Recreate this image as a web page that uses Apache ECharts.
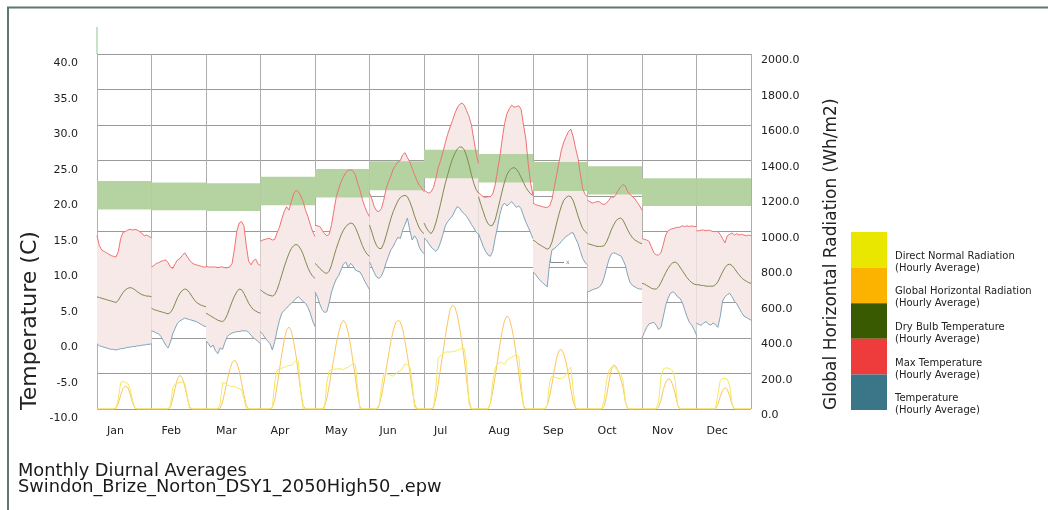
<!DOCTYPE html>
<html>
<head>
<meta charset="utf-8">
<script src="https://cdn.jsdelivr.net/npm/echarts@6/dist/echarts.min.js"></script>
<style>
  html, body { margin: 0; padding: 0; background: #fff; }
  #chart { width: 1048px; height: 510px; }
</style>
</head>
<body>
<div id="chart"></div>
<script>
// Monthly diurnal profiles: one row of 24 hourly averages per month.
const months = ['Jan', 'Feb', 'Mar', 'Apr', 'May', 'Jun', 'Jul', 'Aug', 'Sep', 'Oct', 'Nov', 'Dec'];

// Max temperature (C)
const maxTemp = [
  [14.4,13.0,12.4,12.2,12.0,11.8,11.6,11.5,11.4,12.2,14.0,14.9,15.0,15.2,15.3,15.2,15.3,15.2,15.0,14.7,14.4,14.5,14.3,14.1],
  [10.0,10.2,10.5,10.6,10.8,10.9,11.0,10.6,10.0,9.8,10.5,11.0,11.2,11.6,12.0,11.5,11.0,10.6,10.4,10.3,10.2,10.1,10.0,10.0],
  [10.1,10.0,10.0,10.0,10.0,9.9,10.0,10.0,9.9,9.9,10.0,10.5,12.5,15.0,16.2,16.4,15.8,13.0,10.8,10.3,10.9,11.1,10.4,10.2],
  [13.6,13.8,13.9,14.0,14.0,13.8,13.9,14.8,15.6,16.8,17.8,18.5,18.0,19.2,20.3,20.8,20.6,20.0,19.2,18.0,17.1,16.0,15.0,14.3],
  [15.9,15.8,15.7,15.2,14.7,14.4,14.6,16.0,18.0,19.9,21.0,22.0,22.7,23.3,23.6,23.7,23.5,23.0,21.8,20.8,19.5,18.5,17.7,17.1],
  [20.4,19.6,18.5,17.9,17.8,18.2,19.4,21.0,22.0,22.8,23.8,24.3,24.8,25.0,25.8,26.1,25.4,24.8,23.9,23.0,22.2,21.5,21.1,20.6],
  [20.8,20.6,20.4,20.6,21.2,22.5,24.0,25.0,26.2,27.5,28.7,29.7,30.6,31.6,32.4,32.9,33.1,32.8,32.0,31.2,30.0,28.0,26.0,24.6],
  [20.5,20.2,19.9,19.8,19.9,19.9,20.3,21.5,23.5,25.5,28.0,30.2,31.6,32.3,32.8,32.5,32.6,32.7,32.2,30.0,28.0,24.5,21.8,20.1],
  [19.0,18.8,18.7,18.6,18.5,18.4,18.4,18.6,19.5,21.3,23.0,24.8,26.5,27.6,28.4,29.1,29.4,28.3,26.7,25.3,23.0,21.0,20.2,19.9],
  [19.4,19.2,19.0,19.1,19.2,19.2,18.9,18.8,19.0,19.4,19.9,19.8,20.2,20.8,21.3,21.6,21.4,20.6,20.2,19.9,19.6,19.1,18.6,18.0],
  [14.0,13.9,13.8,13.6,12.8,12.0,11.7,11.7,12.0,13.2,14.5,15.1,15.3,15.4,15.5,15.6,15.6,15.8,15.7,15.8,15.7,15.8,15.7,15.7],
  [15.1,15.1,15.2,15.2,15.1,15.2,15.1,15.0,15.0,15.0,14.6,14.0,13.4,14.4,14.6,14.8,14.5,14.7,14.5,14.6,14.5,14.4,14.5,14.4]
];

// Dry bulb temperature (C)
const dryBulb = [
  [5.8,5.7,5.6,5.5,5.4,5.3,5.2,5.1,5.0,5.3,5.9,6.4,6.8,7.0,7.1,7.0,6.8,6.5,6.3,6.1,6.0,5.9,5.9,5.8],
  [4.2,4.0,3.9,3.8,3.7,3.6,3.5,3.4,3.6,4.1,4.9,5.7,6.3,6.7,6.9,6.8,6.4,5.9,5.4,5.0,4.8,4.6,4.5,4.4],
  [3.5,3.3,3.1,2.9,2.7,2.5,2.4,2.3,2.6,3.3,4.2,5.1,5.9,6.5,6.9,6.8,6.3,5.6,4.9,4.4,4.0,3.8,3.6,3.5],
  [6.8,6.5,6.3,6.1,6.0,5.9,6.1,6.8,7.8,8.9,10.0,11.0,11.9,12.6,13.0,13.2,13.0,12.5,11.8,10.8,9.9,9.2,8.7,8.4],
  [10.5,10.2,9.8,9.5,9.2,9.1,9.4,10.3,11.5,12.6,13.6,14.5,15.2,15.7,16.0,16.2,16.1,15.6,14.8,13.9,13.0,12.3,11.8,11.5],
  [15.9,14.9,13.8,13.0,12.6,12.6,13.3,14.4,15.6,16.8,17.8,18.6,19.3,19.8,20.0,20.1,19.9,19.2,18.3,17.2,16.3,15.5,15.0,14.7],
  [16.2,15.5,15.0,14.7,15.2,16.2,17.5,18.9,20.4,21.8,23.0,24.2,25.2,26.0,26.6,26.9,26.9,26.5,25.6,24.4,23.0,21.8,20.9,20.4],
  [19.9,18.8,17.8,16.8,16.1,15.8,15.9,16.6,17.9,19.3,20.7,22.0,23.0,23.6,23.9,24.0,23.8,23.3,22.6,21.9,21.2,20.7,20.3,20.1],
  [13.8,13.6,13.3,13.1,12.9,12.7,12.5,12.7,13.5,14.8,16.2,17.5,18.6,19.4,19.8,20.0,19.9,19.3,18.3,17.2,16.2,15.4,15.0,14.7],
  [13.3,13.2,13.1,13.0,12.9,12.9,12.9,13.0,13.5,14.3,15.2,15.9,16.5,16.8,16.9,16.6,15.9,15.2,14.6,14.1,13.8,13.6,13.4,13.3],
  [7.7,7.6,7.4,7.2,7.0,6.9,6.9,7.2,7.8,8.5,9.2,9.8,10.3,10.6,10.7,10.5,10.0,9.5,9.0,8.5,8.1,7.8,7.6,7.5],
  [7.5,7.5,7.4,7.4,7.3,7.3,7.3,7.3,7.5,7.9,8.6,9.3,9.9,10.3,10.4,10.2,9.8,9.3,8.9,8.5,8.2,8.0,7.8,7.7]
];

// Temperature (C), lower edge of the hourly range
const minTemp = [
  [-0.8,-1.1,-1.2,-1.3,-1.4,-1.5,-1.6,-1.6,-1.7,-1.6,-1.5,-1.5,-1.4,-1.3,-1.3,-1.2,-1.2,-1.1,-1.1,-1.0,-1.0,-0.9,-0.9,-0.8],
  [1.0,0.9,0.7,0.6,0.2,-0.4,-1.0,-1.4,-0.6,0.6,1.4,2.1,2.4,2.6,2.8,2.7,2.6,2.5,2.4,2.3,2.1,1.9,1.7,1.6],
  [-0.4,-0.8,-1.3,-1.0,-1.8,-2.2,-1.4,-1.6,-0.6,0.2,0.5,0.7,0.8,0.9,0.9,1.0,1.0,1.0,0.8,0.4,0.0,-0.2,-0.5,-0.8],
  [0.9,0.5,0.0,-0.4,-0.8,-1.7,-0.5,1.1,2.5,3.5,3.9,4.2,4.6,4.9,5.2,5.6,5.8,5.5,5.1,4.9,4.3,3.5,2.4,1.6],
  [6.5,5.8,4.8,4.0,3.6,3.7,5.0,6.5,7.5,8.3,8.8,9.6,10.4,10.7,9.9,10.5,10.2,9.6,9.4,9.3,8.7,8.0,7.4,6.8],
  [10.7,10.0,9.2,8.6,8.4,8.7,9.5,10.6,11.5,12.4,12.9,13.6,14.2,14.0,15.2,16.0,16.9,15.2,13.8,14.4,13.9,12.8,12.2,11.9],
  [14.1,13.8,13.3,12.8,12.5,12.2,12.6,13.5,14.6,15.8,16.4,16.8,17.2,17.9,18.5,18.3,17.8,17.5,17.1,16.6,16.0,15.5,14.9,14.6],
  [14.7,13.8,12.9,12.2,11.7,11.5,12.2,14.0,15.6,17.4,18.6,19.0,18.6,18.9,19.2,18.8,18.4,18.6,18.2,17.2,16.3,15.6,14.8,14.0],
  [9.3,9.0,8.5,8.1,7.8,7.5,7.2,10.5,12.4,12.6,12.9,13.2,13.6,14.0,14.3,14.5,14.8,14.8,14.0,13.3,12.2,11.2,10.6,10.3],
  [6.5,6.6,6.8,6.9,7.0,7.2,7.6,8.5,9.8,11.0,11.8,12.0,11.9,11.7,11.6,11.0,10.2,8.8,7.8,7.4,7.2,7.0,6.9,6.9],
  [0.0,0.8,1.5,2.0,2.1,2.2,1.8,1.2,1.5,3.0,4.6,5.6,6.3,6.5,6.3,5.8,5.6,5.0,4.0,3.0,2.2,1.8,1.2,0.4],
  [2.1,1.9,1.8,2.1,2.3,2.0,1.8,2.1,1.9,1.5,3.0,5.2,5.8,6.1,6.3,5.8,5.2,4.8,4.2,3.6,3.1,2.9,2.7,2.5]
];

// Global horizontal radiation (Wh/m2)
const globalHoriz = [
  [0,0,0,0,0,0,0,0,5,30,80,115,130,120,85,35,5,0,0,0,0,0,0,0],
  [0,0,0,0,0,0,0,0,10,60,120,170,190,175,130,70,15,0,0,0,0,0,0,0],
  [0,0,0,0,0,0,5,40,100,165,220,260,276,260,215,150,80,20,0,0,0,0,0,0],
  [0,0,0,0,0,10,50,130,220,310,390,445,462,440,380,300,200,100,20,0,0,0,0,0],
  [0,0,0,0,15,60,130,210,290,370,430,480,500,480,430,360,270,180,80,10,0,0,0,0],
  [0,0,0,0,20,70,140,220,300,380,440,485,500,490,450,380,300,210,110,30,0,0,0,0],
  [0,0,0,0,10,60,140,230,320,410,490,560,585,575,530,460,380,280,160,50,0,0,0,0],
  [0,0,0,0,0,30,100,180,270,360,440,500,524,510,460,390,300,200,100,20,0,0,0,0],
  [0,0,0,0,0,0,20,70,140,220,290,330,335,310,260,190,110,40,5,0,0,0,0,0],
  [0,0,0,0,0,0,0,15,70,150,220,248,240,210,170,120,40,0,0,0,0,0,0,0],
  [0,0,0,0,0,0,0,10,50,110,150,170,165,135,85,25,0,0,0,0,0,0,0,0],
  [0,0,0,0,0,0,0,0,0,25,70,105,120,110,75,25,0,0,0,0,0,0,0,0]
];

// Direct normal radiation (Wh/m2)
const directNormal = [
  [0,0,0,0,0,0,0,0,0,60,150,158,150,145,110,50,5,0,0,0,0,0,0,0],
  [0,0,0,0,0,0,0,0,20,120,140,145,150,152,148,80,5,0,0,0,0,0,0,0],
  [0,0,0,0,0,0,30,150,145,135,130,125,128,120,115,110,60,0,0,0,0,0,0,0],
  [0,0,0,0,0,10,150,220,225,230,235,240,245,245,260,275,268,90,0,0,0,0,0,0],
  [0,0,0,0,0,150,215,220,225,225,228,225,222,230,235,245,255,250,120,0,0,0,0,0],
  [0,0,0,0,10,120,200,200,195,190,185,195,210,215,230,255,250,240,150,10,0,0,0,0],
  [0,0,0,0,5,120,290,300,310,320,322,320,325,325,330,335,345,340,250,30,0,0,0,0],
  [0,0,0,0,0,30,150,230,250,265,260,250,275,285,290,300,305,295,150,10,0,0,0,0],
  [0,0,0,0,0,0,20,150,185,180,175,172,170,180,195,220,235,100,0,0,0,0,0,0],
  [0,0,0,0,0,0,0,50,160,215,235,240,230,215,200,160,40,0,0,0,0,0,0,0],
  [0,0,0,0,0,0,0,40,180,225,232,230,225,215,160,20,0,0,0,0,0,0,0,0],
  [0,0,0,0,0,0,0,0,0,80,160,170,172,168,130,30,0,0,0,0,0,0,0,0]
];

// Monthly comfort band (C)
const comfortLow  = [18.1, 18.0, 17.9, 18.7, 19.8, 20.8, 22.5, 21.9, 20.7, 20.2, 18.6, 18.6];
const comfortHigh = [22.1, 21.9, 21.8, 22.7, 23.8, 24.9, 26.5, 25.9, 24.8, 24.2, 22.5, 22.5];

const FONT = 'DejaVu Sans';

// Each month occupies 24 units on the x axis; its 24 hourly samples span it edge to edge.
const hourX = (m, h) => m * 24 + h * 24 / 23;

// One line series per month so that months are never joined to each other.
function monthlyLines(name, rows, color, yAxisIndex) {
  return rows.map((row, m) => ({
    type: 'line', name, yAxisIndex,
    data: row.map((v, h) => [hourX(m, h), v]),
    showSymbol: false, symbol: 'none',
    lineStyle: { width: 1, color },
    itemStyle: { color },
    silent: true, z: 4,
    emphasis: { disabled: true }
  }));
}

// Legend geometry: swatches stacked edge to edge, captions sitting in their lower half.
const SWATCH_H = 35.6;
const CAPTION_SHIFT = 25;             // top padding that pushes the two caption lines down
const CAPTION_H = CAPTION_SHIFT + 24; // padded caption box height (two 12px lines)

const chart = echarts.init(document.getElementById('chart'), null, { renderer: 'canvas' });

chart.setOption({
  animation: false,
  backgroundColor: '#ffffff',
  textStyle: { fontFamily: FONT },
  title: {
    text: 'Monthly Diurnal Averages\nSwindon_Brize_Norton_DSY1_2050High50_.epw',
    left: 18, top: 463, padding: 0,
    textStyle: { fontFamily: FONT, fontSize: 17.8, fontWeight: 'normal', color: '#1a1a1a', lineHeight: 16.5 }
  },
  legend: {
    orient: 'vertical', left: 851, top: 232 - (CAPTION_H - SWATCH_H) / 2, padding: 0,
    itemWidth: 36, itemHeight: SWATCH_H, itemGap: SWATCH_H - CAPTION_H,
    icon: 'rect', selectedMode: false,
    data: [
      { name: 'Direct Normal Radiation', itemStyle: { color: '#e9e600' } },
      { name: 'Global Horizontal Radiation', itemStyle: { color: '#fbb300' } },
      { name: 'Dry Bulb Temperature', itemStyle: { color: '#395a00' } },
      { name: 'Max Temperature', itemStyle: { color: '#ee3b3b' } },
      { name: 'Temperature', itemStyle: { color: '#3a7588' } }
    ],
    formatter: n => '{c|' + n + '}\n{c|(Hourly Average)}',
    textStyle: {
      fontFamily: FONT, fontSize: 10, color: '#222', lineHeight: 12,
      padding: [CAPTION_SHIFT, 0, 0, 3],
      rich: { c: { fontFamily: FONT, fontSize: 10, color: '#222', lineHeight: 12 } }
    }
  },
  grid: { left: 97, right: 297, top: 54, bottom: 101, containLabel: false },
  xAxis: {
    type: 'value', min: 0, max: 288, interval: 24,
    axisLine: { show: false }, axisTick: { show: false },
    splitLine: { show: true, lineStyle: { color: '#adadad', width: 1 } },
    axisLabel: {
      formatter: v => months[Math.round(v / 24)] || '',
      align: 'left', padding: [0, 0, 0, 10], margin: 17,
      fontFamily: FONT, fontSize: 11, color: '#222'
    }
  },
  yAxis: [
    {
      type: 'value', min: -10, max: 40, interval: 5,
      axisLine: { show: true, lineStyle: { color: '#8fc78f', width: 1 } },
      axisTick: { show: false },
      splitLine: { show: true, lineStyle: { color: '#9a9a9a', width: 1 } },
      axisLabel: {
        formatter: v => v.toFixed(1), margin: 19,
        verticalAlign: 'top', padding: [4, 0, 0, 0],
        fontFamily: FONT, fontSize: 11, color: '#222'
      }
    },
    {
      type: 'value', min: 0, max: 2000, interval: 200, position: 'right',
      axisLine: { show: false }, axisTick: { show: false }, splitLine: { show: false },
      axisLabel: {
        formatter: v => v.toFixed(1), margin: 10,
        verticalAlign: 'top', padding: [1, 0, 0, 0],
        fontFamily: FONT, fontSize: 11, color: '#222'
      }
    }
  ],
  series: [
    {
      // shaded range between the max and lower temperature curves
      type: 'custom', name: 'Range', silent: true, z: 1,
      data: months.map((_, m) => [m * 24, 0]),
      encode: { x: 0, y: 1 },
      renderItem: (params, api) => {
        const m = params.dataIndex;
        const upper = maxTemp[m].map((v, h) => api.coord([hourX(m, h), v]));
        const lower = minTemp[m].map((v, h) => api.coord([hourX(m, h), v])).reverse();
        return { type: 'polygon', shape: { points: upper.concat(lower) }, style: { fill: '#f6e9e7' } };
      }
    },
    {
      // monthly comfort band
      type: 'custom', name: 'Comfort', silent: true, z: 2,
      data: months.map((_, m) => [m * 24, comfortLow[m], comfortHigh[m]]),
      encode: { x: 0, y: [1, 2] },
      renderItem: (params, api) => {
        const m = params.dataIndex;
        const p1 = api.coord([m * 24, comfortHigh[m]]);
        const p2 = api.coord([m * 24 + 24, comfortLow[m]]);
        return { type: 'rect', shape: { x: p1[0], y: p1[1], width: p2[0] - p1[0], height: p2[1] - p1[1] }, style: { fill: '#b5d3a0' } };
      }
    },
    ...monthlyLines('Global Horizontal Radiation', globalHoriz, '#fcc55e', 1),
    ...monthlyLines('Direct Normal Radiation', directNormal, '#f4e861', 1),
    ...monthlyLines('Temperature', minTemp, '#7fa6ba', 0),
    ...monthlyLines('Dry Bulb Temperature', dryBulb, '#7f8b50', 0),
    ...monthlyLines('Max Temperature', maxTemp, '#f07272', 0)
  ],
  graphic: [
    { type: 'polyline', silent: true, shape: { points: [[8, 510], [8, 7.5], [1048, 7.5]] }, style: { stroke: '#5e766f', lineWidth: 2, fill: null } },
    { type: 'line', silent: true, shape: { x1: 97, y1: 27, x2: 97, y2: 54 }, style: { stroke: '#8fc78f', lineWidth: 1 } },
    { type: 'text', silent: true, x: 30, y: 410, rotation: Math.PI / 2,
      style: { text: 'Temperature (C)', fontFamily: FONT, fontSize: 22, fill: '#222', align: 'left', verticalAlign: 'middle' } },
    { type: 'text', silent: true, x: 832, y: 410, rotation: Math.PI / 2,
      style: { text: 'Global Horizontal Radiation (Wh/m2)', fontFamily: FONT, fontSize: 17, fill: '#222', align: 'left', verticalAlign: 'middle' } },
    // small axis gizmo
    { type: 'polyline', silent: true, shape: { points: [[550.5, 244], [550.5, 262.5], [564, 262.5]] }, style: { stroke: '#8a8a8a', lineWidth: 1, fill: null } },
    { type: 'text', silent: true, x: 553, y: 246, style: { text: 'y', fontFamily: FONT, fontSize: 6, fill: '#888', align: 'left', verticalAlign: 'middle' } },
    { type: 'text', silent: true, x: 566, y: 262, style: { text: 'x', fontFamily: FONT, fontSize: 6, fill: '#888', align: 'left', verticalAlign: 'middle' } }
  ]
});
</script>
</body>
</html>
